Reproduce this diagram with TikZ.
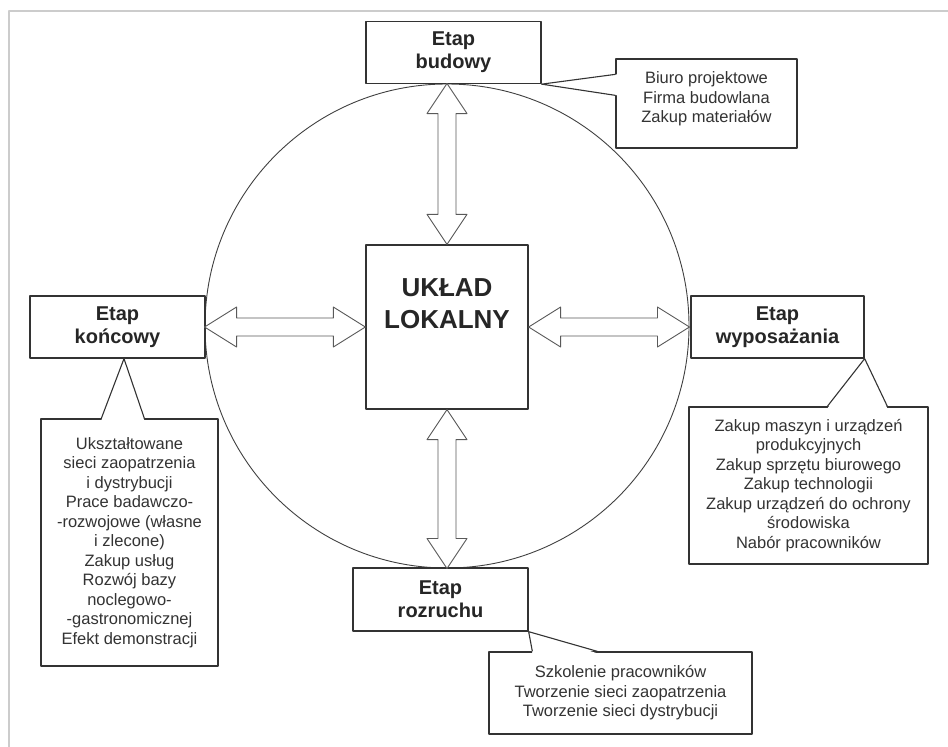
\documentclass[tikz,border=0pt]{standalone}
\usepackage{fontspec}
\setmainfont{Liberation Sans}
\usetikzlibrary{positioning,calc}

\tikzset{
	ramka/.style={draw=black!20,line width=2pt},
	krag/.style={circle,draw=black!75,line width=0.9pt,minimum size=484,inner sep=0pt},
	etap/.style={draw=black!80,line width=1.3pt,fill=white,minimum width=175,minimum height=62,align=center,text=black!85,font=\fontsize{20}{23}\selectfont\bfseries},
	srodek/.style={draw=black!80,line width=1.3pt,fill=white,minimum width=162,minimum height=164,inner sep=0pt,text=black!85,font=\fontsize{26}{32}\selectfont\bfseries},
	opis/.style={draw=black!80,line width=1.3pt,fill=white,inner sep=0pt,text=black!80,font=\fontsize{16.5}{19.5}\selectfont},
	dziobline/.style={draw=black!80,line width=1.1pt},
	bigarrow/.style={draw=black!65,line width=0.9pt,fill=white},
}
% hollow double arrows: left/right tip, top/bottom tip
\newcommand{\hollowh}[2]{\draw[bigarrow] (#1) -- ++(32,-20) -- ++(0,11) -- ($(#2)+(-32,-9)$) -- ++(0,-11) -- (#2) -- ++(-32,20) -- ++(0,-11) -- ($(#1)+(32,9)$) -- ++(0,11) -- cycle;}
\newcommand{\hollowv}[2]{\draw[bigarrow] (#1) -- ++(-20,30) -- ++(11,0) -- ($(#2)+(-9,-30)$) -- ++(-11,0) -- (#2) -- ++(20,-30) -- ++(-11,0) -- ($(#1)+(9,30)$) -- ++(11,0) -- cycle;}
% callout pointer: apex, two base points, inward shift
\newcommand{\dziob}[4]{\fill[white] (#1) -- ($(#2)+#4$) -- ($(#3)+#4$) -- cycle;
	\draw[dziobline] (#2) -- (#1) -- (#3);}

\begin{document}
\begin{tikzpicture}[x=1pt,y=-1pt,line join=round]
	\useasboundingbox (0,0) rectangle (948,747);
	\draw[ramka] (948,11) -- (9,11) -- (9,747);
	\node[krag] (krag) at (447,326) {};
	\node[srodek] (uklad) at (447,327) {\parbox[c][96pt][t]{150pt}{\centering UKŁAD\\LOKALNY}};
	\node[etap] (budowy) at (453.5,52.5) {Etap\\budowy};
	\node[etap] (koncowy) at (117.5,327) {Etap\\końcowy};
	\node[etap,minimum width=173] (wypos) at (777.5,327) {Etap\\wyposażania};
	\node[etap,minimum height=63] (rozruch) at (440.5,599.5) {Etap\\rozruchu};
	\coordinate (lewy) at (uklad.west -| krag.west);
	\coordinate (prawy) at (uklad.east -| krag.east);
	\coordinate (gora) at (uklad.north |- krag.north);
	\coordinate (dol) at (uklad.south |- krag.south);
	\hollowh{lewy}{uklad.west}
	\hollowh{uklad.east}{prawy}
	\hollowv{gora}{uklad.north}
	\hollowv{uklad.south}{dol}
	\node[opis,minimum width=181,minimum height=89] (opbud) at (706.5,103.5) {\parbox[c][63pt][t]{175pt}{\centering Biuro projektowe\\Firma budowlana\\Zakup materiałów}};
	\node[opis,minimum width=177,minimum height=247] (opkon) at (129.5,542.5) {\parbox{170pt}{\centering Ukształtowane\\sieci zaopatrzenia\\i dystrybucji\\Prace badawczo-\\-rozwojowe (własne\\i zlecone)\\Zakup usług\\Rozwój bazy\\noclegowo-\\-gastronomicznej\\Efekt demonstracji}};
	\node[opis,minimum width=239,minimum height=157] (opwyp) at (808.5,485.5) {\parbox{232pt}{\centering Zakup maszyn i urządzeń\\produkcyjnych\\Zakup sprzętu biurowego\\Zakup technologii\\Zakup urządzeń do ochrony\\środowiska\\Nabór pracowników}};
	\node[opis,minimum width=263,minimum height=82] (oproz) at (620.5,693) {\parbox{256pt}{\centering Szkolenie pracowników\\Tworzenie sieci zaopatrzenia\\Tworzenie sieci dystrybucji}};
	\dziob{budowy.south east}{$(opbud.north west)+(0,16)$}{$(opbud.north west)+(0,37)$}{(2,0)}
	\dziob{$(koncowy.south)+(6.5,0)$}{$(opkon.north west)+(61,0)$}{$(opkon.north west)+(104,0)$}{(0,2)}
	\dziob{wypos.south east}{$(opwyp.north west)+(139,0)$}{$(opwyp.north west)+(199,0)$}{(0,2)}
	\dziob{rozruch.south east}{$(oproz.north west)+(44,0)$}{$(oproz.north west)+(109,0)$}{(0,2)}
\end{tikzpicture}
\end{document}
